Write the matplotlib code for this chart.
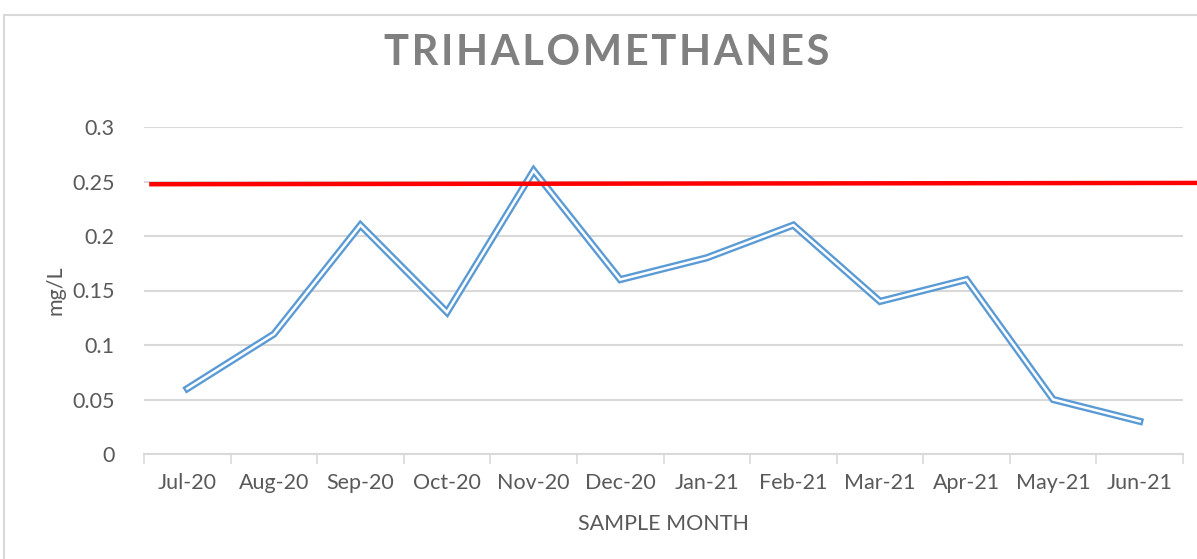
import numpy as np
import matplotlib
matplotlib.use("Agg")
import matplotlib.pyplot as plt
from matplotlib.patches import Rectangle

# ── data ─────────────────────────────────────────────────────
months = ["Jul-20", "Aug-20", "Sep-20", "Oct-20", "Nov-20", "Dec-20",
          "Jan-21", "Feb-21", "Mar-21", "Apr-21", "May-21", "Jun-21"]
thm_mg_l = [0.060, 0.110, 0.210, 0.130, 0.260, 0.160,
            0.180, 0.210, 0.140, 0.160, 0.050, 0.030]
limit_line = [0.2475, 0.2487]   # hand-drawn red limit, left end / right end
y_ticks = [0, 0.05, 0.1, 0.15, 0.2, 0.25, 0.3]
y_tick_labels = ["0", "0.05", "0.1", "0.15", "0.2", "0.25", "0.3"]

BLUE = "#5b9bd5"
GRID = "#d9d9d9"
TEXT = "#595959"
FONT = ["Lato", "DejaVu Sans"]

plt.rcParams["font.family"] = FONT

fig = plt.figure(figsize=(11.97, 5.59), dpi=100)
ax = fig.add_axes([144 / 1197, 1 - 454 / 559, (1183 - 144) / 1197, (454 - 127) / 559])

x = np.arange(len(months))

# double (compound) line: wide blue stroke with a white core
ax.plot(x, thm_mg_l, color=BLUE, lw=5.2, solid_joinstyle="miter", zorder=3)
ax.plot(x, thm_mg_l, color="white", lw=1.8, solid_joinstyle="miter", zorder=4)

# red limit line runs past the plot area
ax.plot([-0.44, 11.75], limit_line, color="#ff0000", lw=3.2,
        solid_capstyle="butt", clip_on=False, zorder=5)

ax.set_xlim(-0.5, len(months) - 0.5)
ax.set_ylim(0, 0.3)
ax.set_yticks(y_ticks)
ax.set_yticklabels(y_tick_labels)
ax.set_xticks(x)
ax.set_xticklabels(months)
ax.set_xticks(np.arange(-0.5, len(months)), minor=True)

ax.tick_params(axis="y", length=0, pad=21, labelsize=15.5, labelcolor=TEXT)
ax.tick_params(axis="x", which="major", length=0, pad=14, labelsize=15.5, labelcolor=TEXT)
ax.tick_params(axis="x", which="minor", length=7, width=1.2, color=GRID, direction="out")

ax.grid(True, axis="y", color=GRID, lw=1.5)
ax.set_axisbelow(True)
for side in ["top", "right", "left"]:
    ax.spines[side].set_visible(False)
ax.spines["bottom"].set_color(GRID)
ax.spines["bottom"].set_linewidth(1.5)

ax.set_ylabel("mg/L", fontsize=15.5, color=TEXT, labelpad=5)
ax.set_xlabel("SAMPLE MONTH", fontsize=15.5, color=TEXT, labelpad=15)

# title, letter spaced, centred on the (cropped) chart area
title = "TRIHALOMETHANES"
fig.text(607 / 1197, 1 - 53 / 559, "\u200a".join(title),
         ha="center", va="center", fontsize=30, fontweight="bold",
         color="#808080", family=FONT)

# chart border, cropped on the right and bottom
fig.patches.append(Rectangle((4 / 1197, -0.1), 1.2, 1.1 - 15 / 559,
                             transform=fig.transFigure, fill=False,
                             edgecolor=GRID, lw=1.5, zorder=0))

fig.savefig("out.png", dpi=100)
